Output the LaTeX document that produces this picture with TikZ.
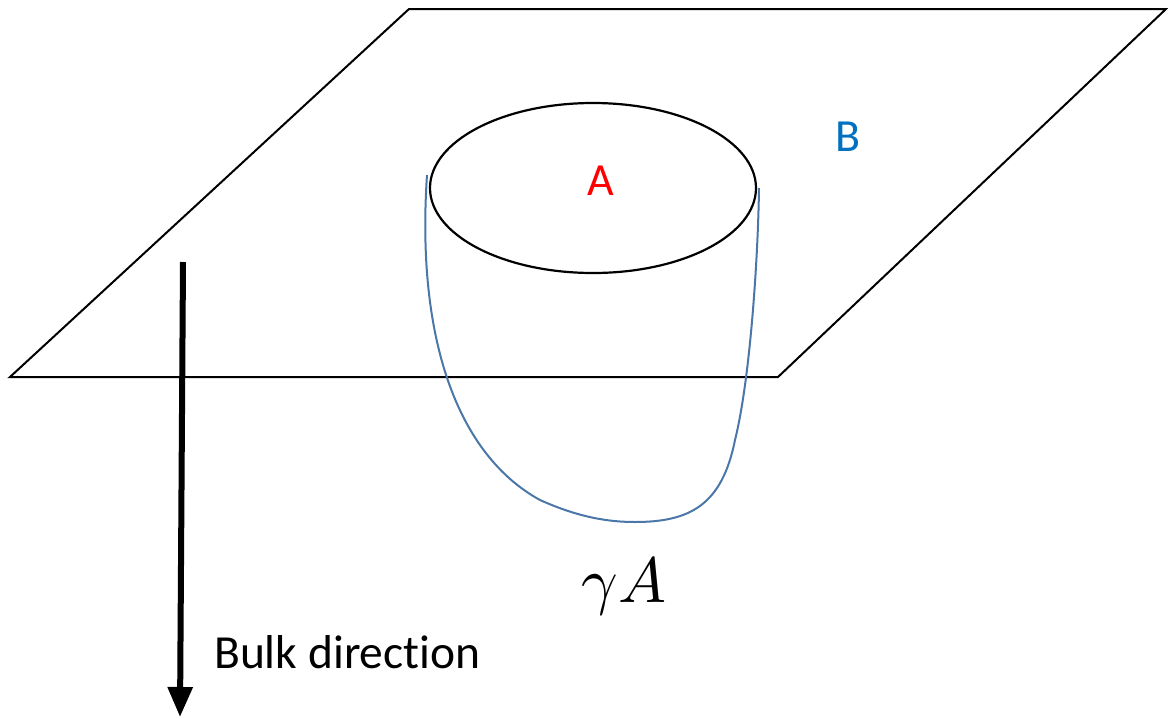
\documentclass[tikz,border=0pt]{standalone}
\usepackage{fontspec}
\setmainfont{Carlito}[Ligatures=NoCommon]
\usetikzlibrary{arrows.meta,shapes.geometric}
\definecolor{curveblue}{RGB}{74,118,168}
\definecolor{labelblue}{RGB}{0,112,192}
\begin{document}
\begin{tikzpicture}[x=1pt,y=-1pt,
  plane/.style={draw=black,line width=2pt,line join=miter},
  lbl/.style={inner sep=0pt,font=\fontsize{46}{52}\selectfont}]
\useasboundingbox (0,0) rectangle (1168,718);
% plane
\coordinate (p1) at (409,9);
\coordinate (p2) at (1166,9);
\coordinate (p3) at (778,377);
\coordinate (p4) at (10,377);
\draw[plane] (p1) -- (p2) -- (p3) -- (p4) -- cycle;
% ellipse region A
\node[draw=black,line width=2.2pt,ellipse,inner sep=0pt,outer sep=0pt,
  minimum width=326pt,minimum height=170pt] (ell) at (593,188) {};
% minimal surface
\coordinate (c1) at (427,175);
\coordinate (c2) at (759,188);
\draw[curveblue,line width=2pt] (c1) .. controls (416,340) and (458,455) .. (540,500)
  .. controls (580,518) and (610,522) .. (635,522)
  .. controls (690,522) and (722,505) .. (735,440)
  .. controls (750,380) and (758,260) .. (c2);
% labels
\node[lbl,text=red] (A) at (601,181) {A};
\node[lbl,text=labelblue] (B) at (848,137) {B};
\node[inner sep=0pt,scale=6.4] (g) at (624,587) {$\gamma A$};
% bulk arrow
\coordinate (a1) at (183,262);
\coordinate (a2) at (180,717);
\draw[line width=6pt,-{Triangle[width=24pt,length=30pt]}] (a1) -- (a2);
\node[inner sep=0pt,anchor=west,font=\fontsize{47.5}{52}\selectfont] (bulk) at (214,652) {Bulk direction};
\end{tikzpicture}
\end{document}
